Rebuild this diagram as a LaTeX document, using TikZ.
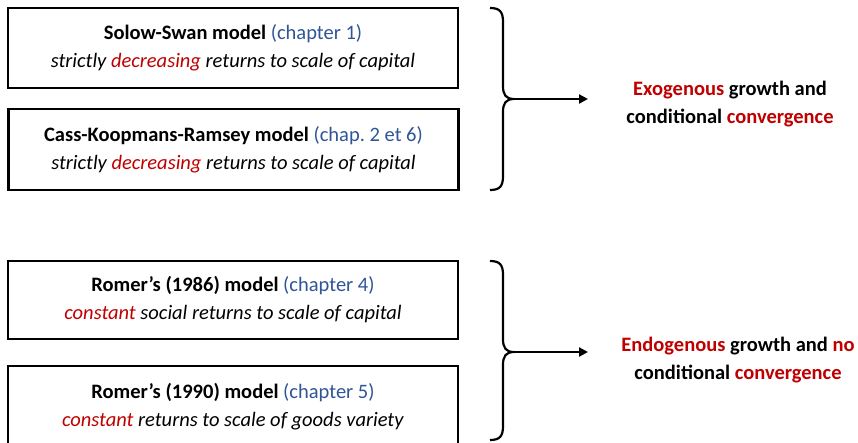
\documentclass[tikz,border=0pt]{standalone}
\usepackage{xcolor}
\usepackage{fontspec}
\setmainfont{Carlito}
\usepackage{tikz}
\usetikzlibrary{arrows.meta,positioning}

\definecolor{resred}{HTML}{C00000}
\definecolor{chapblue}{HTML}{2F5597}

\tikzset{
    model/.style={draw,rectangle,line width=2.6pt,minimum width=450pt,
        align=center,font=\fontsize{20.5}{28}\selectfont,inner sep=0pt},
    result/.style={align=center,font=\fontsize{20.5}{28.5}\selectfont\bfseries},
    brace/.style={line width=2.2pt,line join=round},
    arr/.style={-{Triangle[length=9pt,width=9pt]},line width=2.2pt}
}

\begin{document}
\begin{tikzpicture}[x=1pt,y=-1pt]
    \clip (0,0) rectangle (858,442);
    \fill[white] (0,0) rectangle (858,442);
    \path
        (233,48)    node[model,minimum height=80pt] (solow){\textbf{Solow-Swan model} \textcolor{chapblue}{(chapter 1)}\\\textit{strictly \textcolor{resred}{decreasing} returns to scale of capital}}
        (233.5,149.5) node[model,minimum height=81pt] (ckr){\textbf{Cass-Koopmans-Ramsey model} \textcolor{chapblue}{(chap.\ 2 et 6)}\\\textit{strictly \textcolor{resred}{decreasing} returns to scale of capital}}
        (233,300)   node[model,minimum height=78pt] (romera){\textbf{Romer’s (1986) model} \textcolor{chapblue}{(chapter 4)}\\\textit{\textcolor{resred}{constant} social returns to scale of capital}}
        (233,407)   node[model,minimum height=82pt] (romerb){\textbf{Romer’s (1990) model} \textcolor{chapblue}{(chapter 5)}\\\textit{\textcolor{resred}{constant} returns to scale of goods variety}}
        (730,104)   node[result] (exo){\textcolor{resred}{Exogenous} growth and\\conditional \textcolor{resred}{convergence}}
        (738,360)   node[result] (endo){\textcolor{resred}{Endogenous} growth and \textcolor{resred}{no}\\conditional \textcolor{resred}{convergence}}
        ;
    % braces
    \draw[brace] (490,8) .. controls (500,8) and (503,12) .. (503,22) -- (503,86)
        .. controls (503,95) and (506,99) .. (514,99)
        .. controls (506,99) and (503,103) .. (503,112) -- (503,176)
        .. controls (503,186) and (500,190) .. (490,190);
    \draw[brace] (490,261) .. controls (500,261) and (503,265) .. (503,275) -- (503,339)
        .. controls (503,348) and (506,352) .. (514,352)
        .. controls (506,352) and (503,356) .. (503,365) -- (503,426)
        .. controls (503,436) and (500,440) .. (490,440);
    \coordinate (tipa) at (513,99);
    \coordinate (tipb) at (513,352);
    \coordinate (enda) at (588,99);
    \coordinate (endb) at (588,352);
    \draw[arr] (tipa) -- (enda);
    \draw[arr] (tipb) -- (endb);
\end{tikzpicture}
\end{document}
